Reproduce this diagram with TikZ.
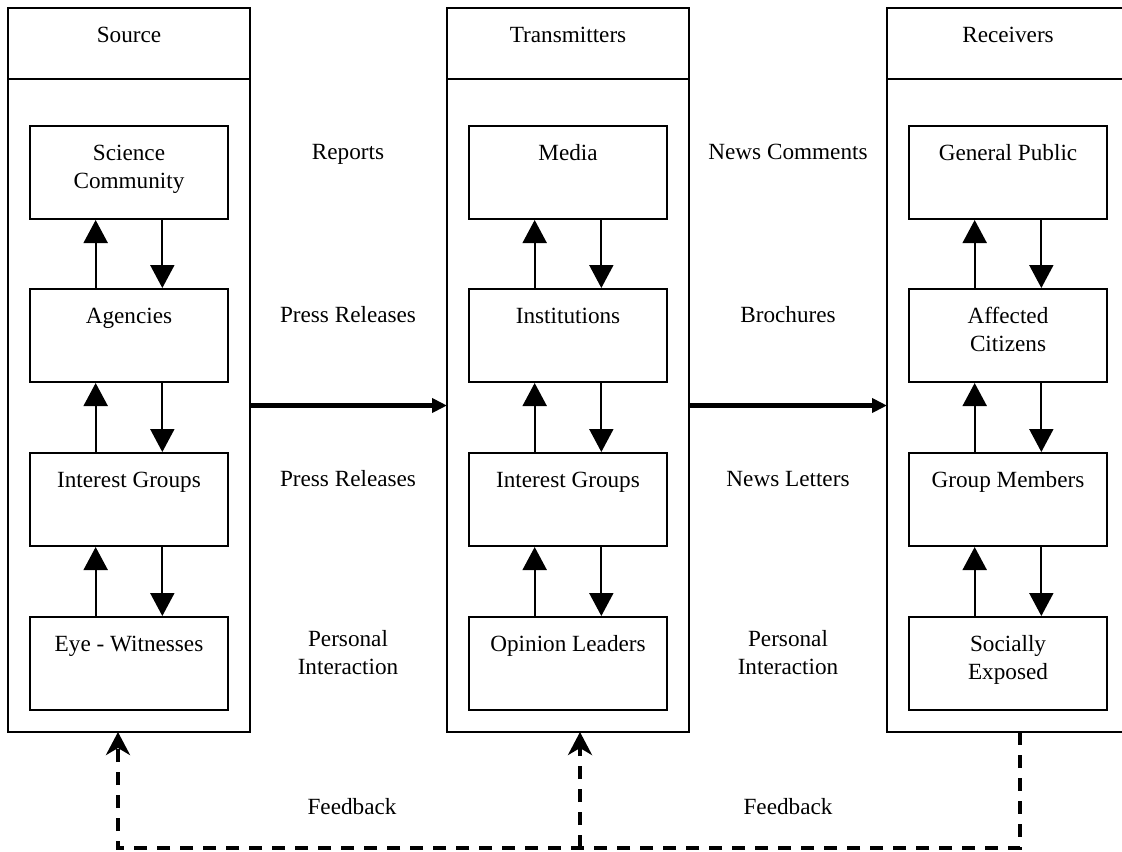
\documentclass[tikz,border=0pt]{standalone}
\usepackage{fontspec}
\setmainfont{Liberation Serif}
\usetikzlibrary{arrows.meta,calc}

\begin{document}
\begin{tikzpicture}[x=0.5pt, y=-0.5pt,
                    every node/.style={font=\fontsize{11.6}{14}\selectfont},
                    colbox/.style={draw, line width=1pt, minimum width=121pt, minimum height=326.5pt,
                                   inner sep=0pt, outer sep=0pt, anchor=north},
                    headbox/.style={draw, line width=1pt, inner sep=0pt, outer sep=0pt, anchor=south},
                    unitbox/.style={draw, line width=1pt, inner sep=0pt, anchor=north},
                    mediumlbl/.style={inner sep=0pt, anchor=base},
                    flowarrow/.style={line width=1pt, -{Triangle[length=11.5pt,width=12pt]}},
                    transfer/.style={line width=2.4pt, -{Triangle[length=7.5pt,width=7pt]}},
                    feedback/.style={line width=1.9pt, dash pattern=on 6.5pt off 5pt,
                                     -{Stealth[length=11.5pt,width=12pt,inset=3.5pt]}}]
  \def\boxtext#1#2#3{\parbox[t][#2][t]{#1}{\centering\rule{0pt}{17pt}#3}}

  \clip (0,0) rectangle (1122,851);

  % columns with headers
  \foreach \cx/\col/\title in {129/src/Source, 568/trn/Transmitters, 1008/rcv/Receivers}{
    \node[colbox] (\col) at (\cx,79) {};
    \node[headbox] (\col-head) at (\col.north) {\boxtext{121pt}{35.5pt}{\title}};
  }

  % actors in each column
  \foreach \cx/\col/\a/\b/\c/\d in {
      129/src/{Science\\Community}/Agencies/Interest Groups/Eye - Witnesses,
      568/trn/Media/Institutions/Interest Groups/Opinion Leaders,
      1008/rcv/General Public/{Affected\\Citizens}/Group Members/{Socially\\Exposed}}{
    \foreach \y/\txt [count=\i] in {125/\a, 288/\b, 452/\c, 616/\d}
      \node[unitbox] (\col\i) at (\cx,\y) {\boxtext{99pt}{46.5pt}{\txt}};
  }

  % up and down arrows between actors
  \foreach \col in {src,trn,rcv}
    \foreach \i [evaluate={\j=int(\i+1);}] in {1,2,3}{
      \draw[flowarrow] ($(\col\j.north west)!1/3!(\col\j.north east)$)
                    -- ($(\col\i.south west)!1/3!(\col\i.south east)$);
      \draw[flowarrow] ($(\col\i.south west)!2/3!(\col\i.south east)$)
                    -- ($(\col\j.north west)!2/3!(\col\j.north east)$);
    }

  % transfer between columns
  \draw[transfer] (src.east) -- (trn.west);
  \draw[transfer] (trn.east) -- (rcv.west);

  % media
  \node[mediumlbl] (reports) at (348,159) {Reports};
  \node[mediumlbl] (press1) at (348,322) {Press Releases};
  \node[mediumlbl] (press2) at (348,486) {Press Releases};
  \node[mediumlbl, anchor=center, align=center] (personal1) at (348,653) {Personal\\Interaction};
  \node[mediumlbl] (comments) at (788,159) {News Comments};
  \node[mediumlbl] (brochures) at (788,322) {Brochures};
  \node[mediumlbl] (letters) at (788,486) {News Letters};
  \node[mediumlbl, anchor=center, align=center] (personal2) at (788,653) {Personal\\Interaction};

  % feedback
  \coordinate (fbR) at (1020,848);
  \coordinate (fbM) at (580,848);
  \coordinate (fbL) at (118,848);
  \draw[feedback] (rcv.south -| fbR) -- (fbR) -- (fbL) -- (src.south -| fbL);
  \draw[feedback] (fbM) -- (trn.south -| fbM);
  \node[mediumlbl] (fback1) at (352,814) {Feedback};
  \node[mediumlbl] (fback2) at (788,814) {Feedback};

\end{tikzpicture}
\end{document}
